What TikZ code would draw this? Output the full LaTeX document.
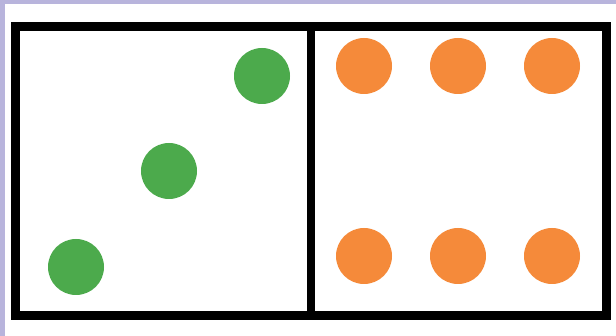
\documentclass[tikz,border=0pt]{standalone}
\definecolor{pipgreen}{RGB}{76,170,76}
\definecolor{piporange}{RGB}{245,138,58}
\definecolor{lavender}{RGB}{184,180,220}
\begin{document}
\begin{tikzpicture}[x=1pt,y=-1pt,every node/.style={circle,inner sep=0pt,minimum size=56pt}]
	\fill[lavender] (0,0) rectangle (616,336);
	\fill[white] (5,4) rectangle (616,336);
	\useasboundingbox (0,0) rectangle (616,336);
	% three
	\foreach \n/\x/\y in {g1/76/267,g2/169/171,g3/262/76}
		\node[fill=pipgreen] (\n) at (\x,\y) {};
	% six
	\foreach \n/\x/\y in {o1/364/66,o2/458/66,o3/552/66,o4/364/256,o5/458/256,o6/552/256}
		\node[fill=piporange] (\n) at (\x,\y) {};
	\draw[line width=9pt] (15,26.5) rectangle (606.5,315.5);
	\coordinate (mtop) at (310.5,26.5);
	\coordinate (mbot) at (310.5,315.5);
	\draw[line width=8pt] (mtop) -- (mbot);
\end{tikzpicture}
\end{document}
